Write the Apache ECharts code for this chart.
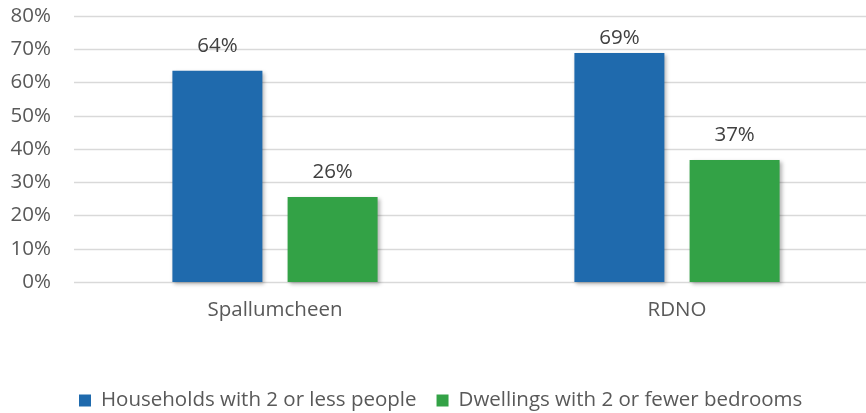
<!DOCTYPE html>
<html><head><meta charset="utf-8">
<script src="https://cdn.jsdelivr.net/npm/echarts@6/dist/echarts.min.js"></script>
<style>html,body{margin:0;padding:0;background:#fff}#c{width:866px;height:413px}</style>
</head><body><div id="c"></div>
<script>
const categories = ['Spallumcheen', 'RDNO'];
const seriesNames = ['Households with 2 or less people', 'Dwellings with 2 or fewer bedrooms'];
const households = [63.5, 68.9];
const dwellings = [25.6, 36.7];
const yTicks = [0, 10, 20, 30, 40, 50, 60, 70, 80];

const FONT = 'Open Sans';
const FS = 20.5;
const chart = echarts.init(document.getElementById('c'), null, {renderer: 'canvas'});
const shadow = {shadowBlur: 4, shadowOffsetX: 2, shadowOffsetY: 2, shadowColor: 'rgba(0,0,0,0.3)'};
function mk(vals, color, name) {
  return {
    name: name, type: 'bar', barWidth: 90, barGap: '28%',
    itemStyle: Object.assign({color: color}, shadow),
    label: {show: true, position: 'top', distance: 14, color: '#404040', fontSize: FS, fontFamily: FONT,
      formatter: p => Math.round(p.value) + '%'},
    data: vals.map(v => v > 68 ? {value: v, label: {distance: 4}} : v)
  };
}
chart.setOption({
  animation: false,
  grid: {left: 74, top: 16, width: 804, bottom: 131, containLabel: false, outerBoundsMode: 'none'},
  legend: {left: 74, top: 385, itemWidth: 12, itemHeight: 12, itemGap: 20, icon: 'rect',
    textStyle: {color: '#595959', fontSize: FS, fontFamily: FONT, padding: [0, 0, 0, 5]},
    data: seriesNames},
  xAxis: {type: 'category', data: categories,
    axisLine: {show: false}, axisTick: {show: false},
    axisLabel: {color: '#595959', fontSize: FS, fontFamily: FONT, margin: 18}},
  yAxis: {type: 'value', min: yTicks[0], max: yTicks[yTicks.length - 1], interval: 10,
    axisLine: {show: false}, axisTick: {show: false},
    splitLine: {lineStyle: {color: '#D9D9D9', width: 1.3}},
    axisLabel: {color: '#595959', fontSize: FS, fontFamily: FONT, margin: 23, formatter: v => v + '%'}},
  series: [mk(households, '#1F6AAD', seriesNames[0]), mk(dwellings, '#33A246', seriesNames[1])]
});
</script></body></html>
